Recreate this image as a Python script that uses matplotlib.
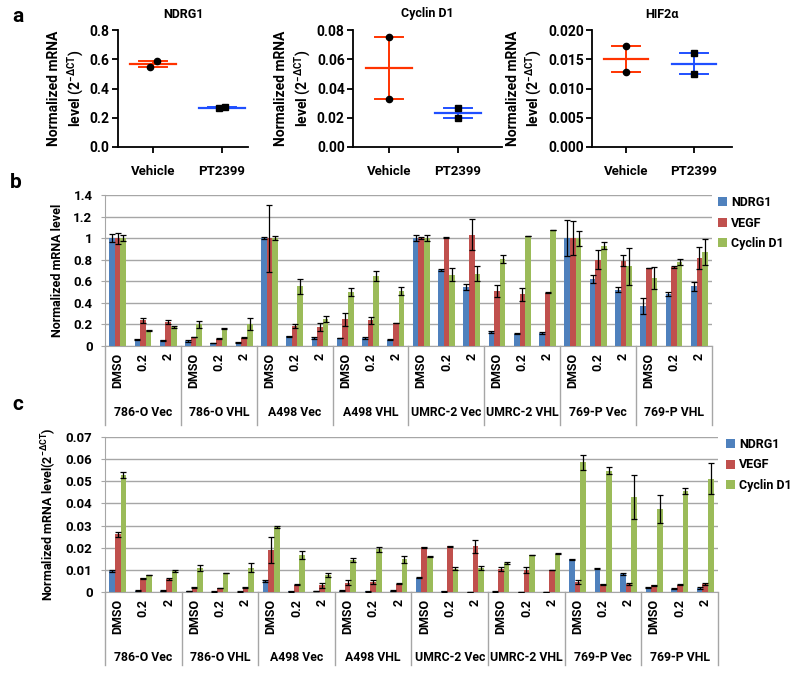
import numpy as np
import matplotlib
matplotlib.use("Agg")
import matplotlib.pyplot as plt
from matplotlib.transforms import blended_transform_factory

plt.rcParams['font.family'] = ['Roboto', 'DejaVu Sans']
plt.rcParams['font.weight'] = 'bold'
plt.rcParams['mathtext.fontset'] = 'custom'
plt.rcParams['mathtext.rm'] = 'Roboto:bold'
plt.rcParams['mathtext.it'] = 'Roboto:bold'
plt.rcParams['mathtext.bf'] = 'Roboto:bold'
plt.rcParams['mathtext.default'] = 'bf'

# ---------------- Panel a data ----------------
a_titles = ["NDRG1", "Cyclin D1", "HIF2\u03b1"]
a_groups = ["Vehicle", "PT2399"]
a_vehicle = [[0.55, 0.59], [0.075, 0.033], [0.0172, 0.0128]]
a_pt2399 = [[0.265, 0.272], [0.027, 0.020], [0.016, 0.0125]]
a_jitter = [[-0.05, 0.06], [0.0, 0.0], [0.0, 0.0]]
a_jitter_pt = [[-0.04, 0.04], [0.0, 0.0], [0.0, 0.0]]
a_ylims = [0.8, 0.08, 0.020]
a_yticks = [[0.0, 0.2, 0.4, 0.6, 0.8],
            [0.00, 0.02, 0.04, 0.06, 0.08],
            [0.000, 0.005, 0.010, 0.015, 0.020]]
a_fmt = ["{:.1f}", "{:.2f}", "{:.3f}"]

# ---------------- Panel b/c categories ----------------
cell_lines = ["786-O Vec", "786-O VHL", "A498 Vec", "A498 VHL",
              "UMRC-2 Vec", "UMRC-2 VHL", "769-P Vec", "769-P VHL"]
doses = ["DMSO", "0.2", "2"]
genes = ["NDRG1", "VEGF", "Cyclin D1"]

b_ndrg1 = [1.0, 0.06, 0.052, 0.046, 0.028, 0.03, 1.0, 0.089, 0.074, 0.074, 0.074, 0.058,
           1.0, 0.708, 0.545, 0.13, 0.114, 0.12, 1.0, 0.62, 0.523, 0.37, 0.483, 0.554]
b_ndrg1_err = [0.04, 0.005, 0.005, 0.005, 0.003, 0.004, 0.01, 0.004, 0.005, 0.004, 0.006, 0.004,
               0.03, 0.01, 0.03, 0.01, 0.003, 0.01, 0.17, 0.04, 0.02, 0.075, 0.02, 0.04]
b_vegf = [1.0, 0.237, 0.22, 0.083, 0.068, 0.077, 1.0, 0.185, 0.175, 0.246, 0.237, 0.212,
          1.0, 1.01, 1.03, 0.51, 0.48, 0.495, 1.0, 0.80, 0.79, 0.723, 0.73, 0.815]
b_vegf_err = [0.05, 0.02, 0.02, 0.003, 0.003, 0.003, 0.31, 0.015, 0.04, 0.06, 0.035, 0.003,
              0.01, 0.005, 0.143, 0.06, 0.06, 0.004, 0.155, 0.09, 0.05, 0.003, 0.01, 0.1]
b_cyc = [1.0, 0.145, 0.175, 0.2, 0.16, 0.2, 1.0, 0.555, 0.25, 0.5, 0.65, 0.51,
         1.0, 0.66, 0.67, 0.805, 1.02, 1.077, 1.0, 0.93, 0.74, 0.63, 0.78, 0.874]
b_cyc_err = [0.03, 0.003, 0.01, 0.03, 0.003, 0.055, 0.02, 0.07, 0.03, 0.035, 0.045, 0.035,
             0.025, 0.06, 0.07, 0.04, 0.003, 0.003, 0.07, 0.03, 0.17, 0.105, 0.025, 0.12]

c_ndrg1 = [0.0095, 0.0006, 0.0006, 0.0004, 0.0002, 0.0002, 0.005, 0.0003, 0.0004, 0.0006, 0.0003, 0.0006,
           0.0065, 0.0003, 0.0001, 0.0002, 0.0001, 0.0001, 0.0147, 0.0105, 0.0082, 0.002, 0.0015, 0.0018]
c_ndrg1_err = [0.0003, 0.0001, 0.0001, 0.0001, 0.0001, 0.0001, 0.0003, 0.0001, 0.0001, 0.0001, 0.0001, 0.0001,
               0.0002, 0.0001, 0.0001, 0.0001, 0.0001, 0.0001, 0.0003, 0.0002, 0.0003, 0.0002, 0.0002, 0.0003]
c_vegf = [0.026, 0.0062, 0.006, 0.0021, 0.0017, 0.0021, 0.019, 0.0033, 0.003, 0.0042, 0.0044, 0.0038,
          0.0202, 0.0206, 0.0206, 0.0105, 0.01, 0.01, 0.0045, 0.0035, 0.0036, 0.003, 0.0032, 0.0036]
c_vegf_err = [0.001, 0.0003, 0.0005, 0.0001, 0.0001, 0.0001, 0.0058, 0.0002, 0.001, 0.0012, 0.0008, 0.0002,
              0.0002, 0.0002, 0.003, 0.001, 0.0012, 0.0001, 0.0007, 0.0003, 0.0003, 0.0002, 0.0002, 0.0003]
c_cyc = [0.0529, 0.0077, 0.0094, 0.0109, 0.0086, 0.0109, 0.0295, 0.0167, 0.0076, 0.0145, 0.0192, 0.0147,
         0.016, 0.0106, 0.0108, 0.013, 0.0167, 0.0173, 0.0585, 0.0548, 0.0429, 0.0373, 0.0456, 0.0512]
c_cyc_err = [0.0012, 0.0002, 0.0004, 0.0012, 0.0001, 0.002, 0.0005, 0.0017, 0.0008, 0.001, 0.001, 0.0015,
             0.0002, 0.0008, 0.001, 0.0005, 0.0001, 0.0001, 0.0034, 0.0017, 0.01, 0.0063, 0.0014, 0.007]

bar_colors = ["#4F81BD", "#C0504D", "#9BBB59"]

fig = plt.figure(figsize=(8, 6.73), dpi=100)
W, H = 800.0, 673.0

def fx(px):
    return px / W

def fy(py):
    return 1 - py / H

# ---------------- Panel a ----------------
a_boxes = [(118, 248, (-0.507, 1.376)), (353, 502, (-0.522, 1.638)), (592, 732, (-0.5, 1.56))]
for k, (l, r, xl) in enumerate(a_boxes):
    ax = fig.add_axes([fx(l), fy(147), fx(r - l), (147 - 30) / H])
    for gi, (vals, jit, col, mk) in enumerate([(a_vehicle[k], a_jitter[k], "#FF3300", "o"),
                                               (a_pt2399[k], a_jitter_pt[k], "#1F4FFF", "s")]):
        v = np.array(vals)
        m = v.mean()
        sem = v.std(ddof=1) / np.sqrt(len(v))
        ax.plot([gi - 0.33, gi + 0.33], [m, m], color=col, lw=1.6, zorder=2)
        ax.plot([gi, gi], [m - sem, m + sem], color=col, lw=1.4, zorder=2)
        for yy in (m - sem, m + sem):
            ax.plot([gi - 0.2, gi + 0.2], [yy, yy], color=col, lw=1.4, zorder=2)
        ax.plot(np.array(jit) + gi, v, marker=mk, color="black", ls="none", ms=4.5, zorder=3)
    ax.set_xlim(*xl)
    ax.set_ylim(0, a_ylims[k])
    ax.set_yticks(a_yticks[k])
    ax.set_yticklabels([a_fmt[k].format(t) for t in a_yticks[k]], fontsize=10, fontweight='bold')
    ax.set_xticks([0, 1])
    ax.set_xticklabels(a_groups, fontsize=9.5, fontweight='bold')
    for s in ("top", "right"):
        ax.spines[s].set_visible(False)
    for s in ("left", "bottom"):
        ax.spines[s].set_linewidth(1.3)
    ax.tick_params(width=1.3, length=4, pad=2)
    ax.tick_params(axis='x', pad=9)
    ax.set_title(a_titles[k], fontsize=9, fontweight='bold', pad=9)
    ax.set_ylabel("Normalized mRNA\nlevel (2$^{-\\Delta CT}$)", fontsize=10, fontweight='bold',
                  linespacing=1.25, labelpad=3)

fig.text(fx(12), fy(17), "a", fontsize=15, fontweight='bold', va='center')
fig.text(fx(10), fy(183), "b", fontsize=15, fontweight='bold', va='center')
fig.text(fx(12), fy(405), "c", fontsize=15, fontweight='bold', va='center')

# ---------------- Panel b/c ----------------
def bar_panel(box, means, errs, ymax, ystep, yfmt, ylabel, sep_bot, grp_y, leg_anchor, ylabelpad):
    l, r, t, b = box
    ax = fig.add_axes([fx(l), fy(b), fx(r - l), (b - t) / H])
    n = len(cell_lines) * len(doses)
    x = np.arange(n)
    w = 1 / 4.5
    handles = []
    for j in range(3):
        h = ax.bar(x + (j - 1) * w, means[j], width=w, color=bar_colors[j],
                   yerr=errs[j], error_kw=dict(ecolor="black", elinewidth=0.9, capsize=2.2, capthick=0.9),
                   zorder=3, label=genes[j])
        handles.append(h)
    ax.set_xlim(-0.5, n - 0.5)
    ax.set_ylim(0, ymax)
    ticks = np.arange(0, ymax + ystep / 2, ystep)
    ax.set_yticks(ticks)
    ax.set_yticklabels([yfmt(t) for t in ticks], fontsize=9.5, fontweight='bold')
    ax.yaxis.grid(True, color="#a6a6a6", lw=1.0, zorder=0)
    ax.set_axisbelow(True)
    for s in ("top", "right"):
        ax.spines[s].set_visible(False)
    ax.spines["left"].set_color("#a6a6a6")
    ax.spines["bottom"].set_color("#a6a6a6")
    ax.tick_params(axis='y', color="#a6a6a6", length=3, pad=6)
    ax.set_xticks(x)
    ax.set_xticklabels(doses * len(cell_lines), rotation=90, fontsize=9, fontweight='bold')
    ax.tick_params(axis='x', length=0, pad=5)
    ax.set_ylabel(ylabel, fontsize=9, fontweight='bold', labelpad=ylabelpad)
    tr = blended_transform_factory(ax.transData, ax.transAxes)
    for g in range(len(cell_lines) + 1):
        ax.plot([g * 3 - 0.5] * 2, [0, sep_bot], transform=tr, color="#a6a6a6", lw=1.0, clip_on=False)
    for g, name in enumerate(cell_lines):
        ax.text(g * 3 + 1, grp_y, name, transform=tr, ha='center', va='center',
                fontsize=8.8, fontweight='bold')
    ax.legend(handles=handles, loc='upper left', bbox_to_anchor=leg_anchor,
              bbox_transform=fig.transFigure, frameon=False, fontsize=9,
              handlelength=0.75, handleheight=0.75, handletextpad=0.3,
              labelspacing=0.6, borderpad=0, borderaxespad=0)
    return ax

def fmt_b(t):
    return "0" if abs(t) < 1e-9 else ("1" if abs(t - 1) < 1e-9 else "{:.1f}".format(t))

def fmt_c(t):
    return "0" if abs(t) < 1e-9 else "{:.2f}".format(t)

bar_panel((105, 712, 195, 346), [b_ndrg1, b_vegf, b_cyc], [b_ndrg1_err, b_vegf_err, b_cyc_err],
          1.4, 0.2, fmt_b, "Normalized mRNA level", -0.52, -0.44, (fx(718), fy(196)), 7)
bar_panel((105, 718, 437, 592), [c_ndrg1, c_vegf, c_cyc], [c_ndrg1_err, c_vegf_err, c_cyc_err],
          0.07, 0.01, fmt_c, "Normalized mRNA level(2$^{-\\Delta CT}$)", -0.47, -0.42,
          (fx(726), fy(438)), 5)

fig.savefig("out.png", dpi=100)
